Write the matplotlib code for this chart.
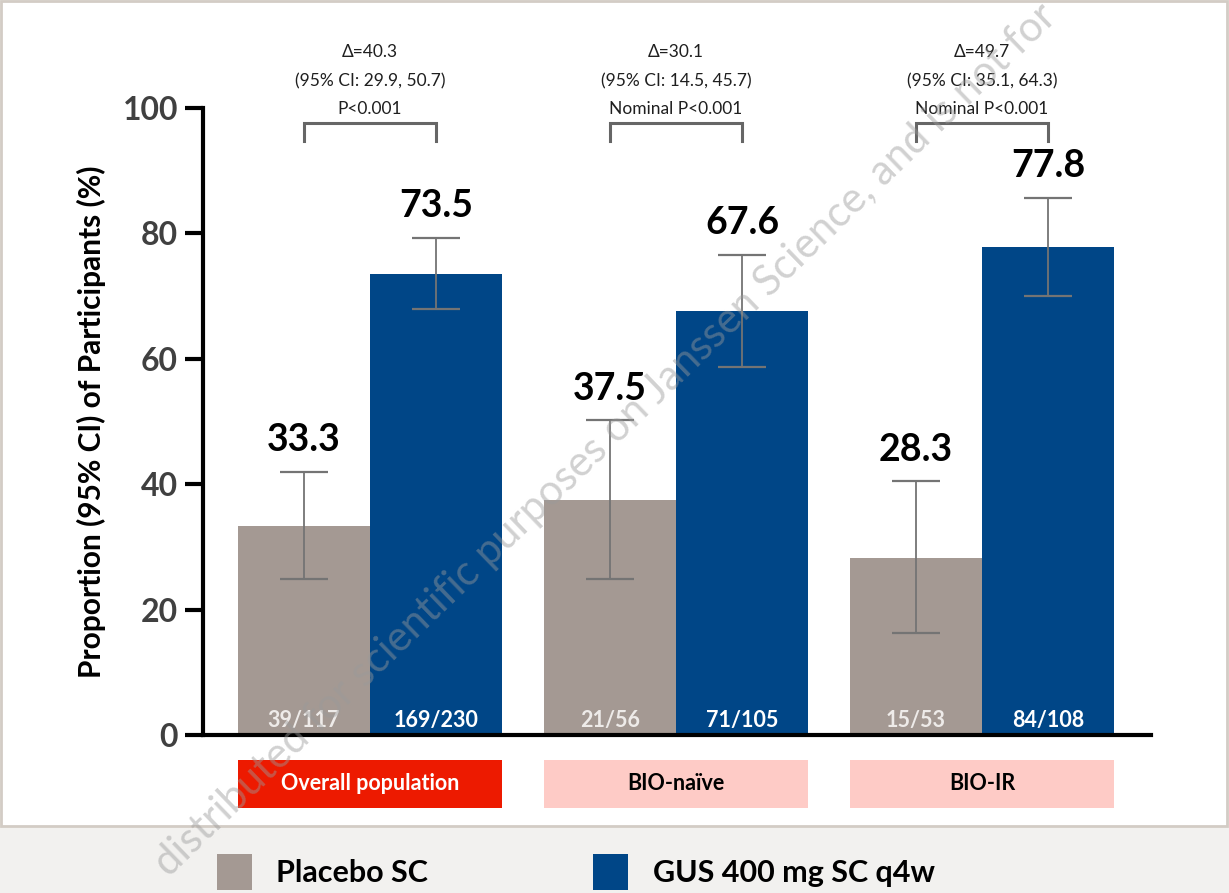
import matplotlib
matplotlib.use('Agg')
import matplotlib.pyplot as plt
from matplotlib.patches import Rectangle, Patch
import numpy as np

plt.rcParams['font.family'] = ['Lato', 'DejaVu Sans']

groups = ['Overall population', 'BIO-naïve', 'BIO-IR']
series = ['Placebo SC', 'GUS 400 mg SC q4w']
placebo = [33.3, 37.5, 28.3]
gus = [73.5, 67.6, 77.8]
placebo_lo = [24.9, 24.9, 16.3]
placebo_hi = [42.0, 50.2, 40.5]
gus_lo = [67.9, 58.7, 70.0]
gus_hi = [79.3, 76.6, 85.7]
placebo_n = ['39/117', '21/56', '15/53']
gus_n = ['169/230', '71/105', '84/108']
deltas = ['Δ=40.3', 'Δ=30.1', 'Δ=49.7']
cis = ['(95% CI: 29.9, 50.7)', '(95% CI: 14.5, 45.7)', '(95% CI: 35.1, 64.3)']
pvals = ['P<0.001', 'Nominal P<0.001', 'Nominal P<0.001']
yticks = [0, 20, 40, 60, 80, 100]

c_placebo = '#a49993'
c_gus = '#004687'
box_colors = ['#ed1a00', '#fecbc6', '#fecbc6']
box_text = ['white', 'black', 'black']

fig = plt.figure(figsize=(12.29, 8.93), dpi=100)
fig.patch.set_facecolor('#f2f1ef')
fig.patches.append(Rectangle((1 / 1229, 67 / 893), 1226 / 1229, 825 / 893,
                             transform=fig.transFigure, facecolor='white',
                             edgecolor='#d3ccc5', linewidth=2, zorder=-10))

ax = fig.add_axes([203 / 1229, 1 - 735 / 893, (1151 - 203) / 1229, (735 - 108) / 893])
ax.set_facecolor('none')

x = np.arange(len(groups))
w = 0.431
xp = x - w / 2
xg = x + w / 2

ax.bar(xp, placebo, width=w, color=c_placebo, zorder=2)
ax.bar(xg, gus, width=w, color=c_gus, zorder=2)

err_kw = dict(fmt='none', ecolor='#747474', elinewidth=1.3, capsize=17, capthick=1.6, zorder=3)
ax.errorbar(xp, placebo, yerr=[np.subtract(placebo, placebo_lo), np.subtract(placebo_hi, placebo)], **err_kw)
ax.errorbar(xg, gus, yerr=[np.subtract(gus, gus_lo), np.subtract(gus_hi, gus)], **err_kw)

for i in range(len(groups)):
    ax.text(xp[i], placebo_hi[i] + 5.0, f'{placebo[i]:.1f}', ha='center', va='center',
            fontsize=27, fontweight='bold', color='black')
    ax.text(xg[i], gus_hi[i] + 5.0, f'{gus[i]:.1f}', ha='center', va='center',
            fontsize=27, fontweight='bold', color='black')
    ax.text(xp[i], 2.3, placebo_n[i], ha='center', va='center', fontsize=15.5,
            fontweight='bold', color='#eeebe9')
    ax.text(xg[i], 2.3, gus_n[i], ha='center', va='center', fontsize=15.5,
            fontweight='bold', color='white')
    # bracket
    ax.plot([xp[i], xp[i], xg[i], xg[i]], [94.8, 97.6, 97.6, 94.8], color='#666666',
            lw=2.2, clip_on=False, solid_joinstyle='miter')
    for yy, s in zip([108.9, 104.3, 99.8], [deltas[i], cis[i], pvals[i]]):
        ax.text(x[i], yy, s, ha='center', va='center', fontsize=12.5, color='#1f1f1f')
    # group label box
    ax.bar(x[i], -7.6, bottom=-4.0, width=2 * w, color=box_colors[i], clip_on=False)
    ax.text(x[i], -7.8, groups[i], ha='center', va='center', fontsize=15.5,
            fontweight='bold', color=box_text[i])

ax.set_xlim((203 - 370) / 306, (1151 - 370) / 306)
ax.set_ylim(0, 100)
ax.set_xticks([])
ax.set_yticks(yticks)
ax.set_yticklabels([str(t) for t in yticks], fontsize=23, fontweight='bold', color='#404040')
ax.tick_params(axis='y', length=13, width=3, pad=5, color='black')
for s in ['top', 'right']:
    ax.spines[s].set_visible(False)
for s in ['left', 'bottom']:
    ax.spines[s].set_linewidth(3)
ax.set_ylabel('Proportion (95% CI) of Participants (%)', fontsize=21.5, fontweight='bold',
              labelpad=12)

handles = [Patch(facecolor=c_placebo), Patch(facecolor=c_gus)]
fig.legend(handles, series, loc='center left', bbox_to_anchor=(189 / 1229, 1 - 872 / 893),
           ncol=2, frameon=False, prop=dict(size=22, weight='bold'),
           handlelength=1.15, handleheight=1.4, handletextpad=0.8, columnspacing=5.4)

fig.text(605 / 1229, 1 - 440 / 893,
         'distributed for scientific purposes on Janssen Science, and is not for',
         rotation=44, ha='center', va='center', fontsize=30, color='#9a9a9a', alpha=0.45,
         zorder=20)

fig.savefig('out.png', dpi=100, facecolor=fig.get_facecolor())
